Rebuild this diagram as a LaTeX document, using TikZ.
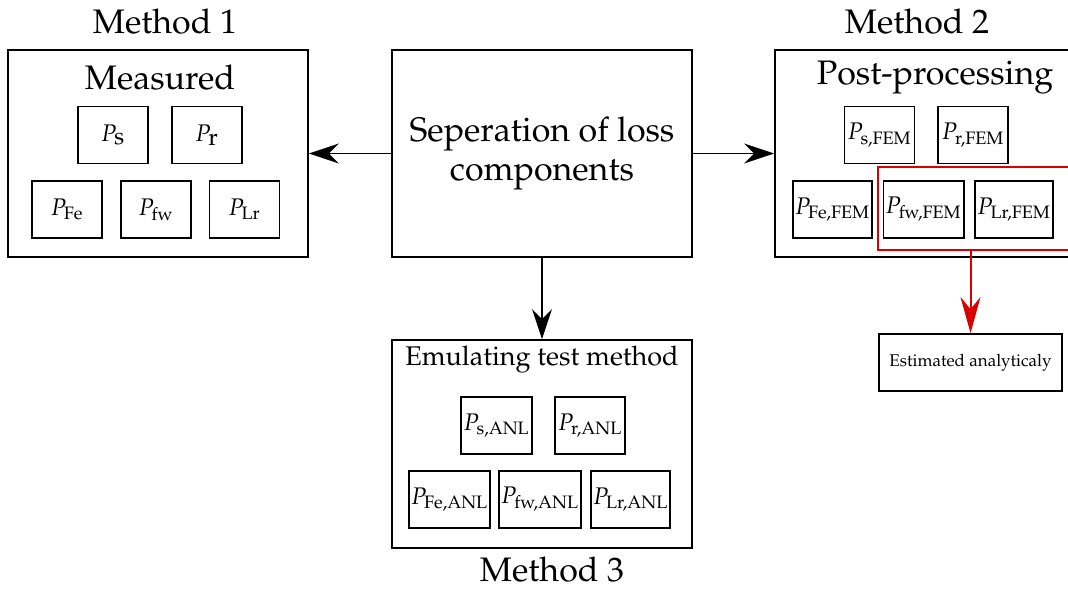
\documentclass[tikz,border=0pt]{standalone}
\usepackage[T1]{fontenc}
\usepackage{mathpazo}
\usepackage{tikz}
\usetikzlibrary{arrows.meta,positioning}

\newcommand{\bigfont}{\fontsize{17}{19.5}\selectfont}
\newcommand{\midfont}{\fontsize{13.5}{16}\selectfont}

\begin{document}
\begin{tikzpicture}[
  x=0.5pt, y=0.5pt,
  group/.style={draw, line width=0.9pt, minimum width=150pt, minimum height=103.5pt, inner sep=0pt},
  pbox/.style={draw, line width=0.9pt, minimum width=35pt, minimum height=28.5pt, inner sep=1pt, font=\fontsize{12}{14}\selectfont},
  title/.style={font=\bigfont, inner sep=0pt},
  arr/.style={-{Stealth[length=15pt, width=10pt, inset=5pt]}, line width=0.8pt},
  redarr/.style={-{Stealth[length=18pt, width=10pt, inset=6pt]}, line width=1pt, red!85!black}
]
  \clip (0,0) rectangle (1068,590);

  % main blocks
  \node[group] (sep) at (542,436.5) {};
  \node[font=\bigfont, align=center] at (sep) {Seperation of loss\\components};
  \node[group] (meas) at (158,436.5) {};
  \node[group] (post) at (925,436.5) {};
  \node[group, minimum height=104pt] (emu) at (542,146) {};

  % headings
  \node[title] (m1) at (165,568) {Method 1};
  \node[title] (m2) at (917,568) {Method 2};
  \node[title] (m3) at (552,20) {Method 3};
  \node[title] (measlbl) at (160,512) {Measured};
  \node[title] (postlbl) at (935,512) {Post-processing};
  \node[font=\midfont, inner sep=0pt] (emulbl) at (542,230) {Emulating test method};

  % measured losses
  \node[pbox] (ps) at (113,455) {$P_{\textstyle\mathrm{s}}$};
  \node[pbox] (pr) at (207,455) {$P_{\textstyle\mathrm{r}}$};
  \node[pbox] (pfe) at (67,380.5) {$P_{\mathrm{Fe}}$};
  \node[pbox] (pfw) at (156,380.5) {$P_{\mathrm{fw}}$};
  \node[pbox] (plr) at (244.5,380.5) {$P_{\mathrm{Lr}}$};

  % FEM losses
  \node[pbox] (psfem) at (879.5,455) {$P_{\mathrm{s,FEM}}$};
  \node[pbox] (prfem) at (973,455) {$P_{\mathrm{r,FEM}}$};
  \node[pbox] (pfefem) at (832.5,380.5) {$P_{\mathrm{Fe,FEM}}$};
  \node[pbox] (pfwfem) at (923.5,380.5) {$P_{\mathrm{fw,FEM}}$};
  \node[pbox] (plrfem) at (1014,380.5) {$P_{\mathrm{Lr,FEM}}$};

  % analytical losses
  \node[pbox] (psanl) at (496.5,164.5) {$P_{\mathrm{s,ANL}}$};
  \node[pbox] (pranl) at (590,164.5) {$P_{\mathrm{r,ANL}}$};
  \node[pbox] (pfeanl) at (449.5,90.5) {$P_{\mathrm{Fe,ANL}}$};
  \node[pbox] (pfwanl) at (540,90.5) {$P_{\mathrm{fw,ANL}}$};
  \node[pbox] (plranl) at (630.5,90.5) {$P_{\mathrm{Lr,ANL}}$};

  % estimated part
  \node[draw, red!85!black, line width=1pt, minimum width=98pt, minimum height=41.5pt, inner sep=0pt] (est) at (975.5,381.5) {};
  \node[draw, line width=0.9pt, minimum width=91.5pt, minimum height=28.5pt, inner sep=1pt, font=\fontsize{8.5}{10}\selectfont] (analy) at (970.5,227.5) {Estimated analyticaly};

  \draw[arr] (sep.west) -- (sep.west -| meas.east);
  \draw[arr] (sep.east) -- (sep.east -| post.west);
  \draw[arr] (sep.south) -- (emu.north);
  \draw[redarr] (est.south -| analy.north) -- (analy.north);
\end{tikzpicture}
\end{document}
